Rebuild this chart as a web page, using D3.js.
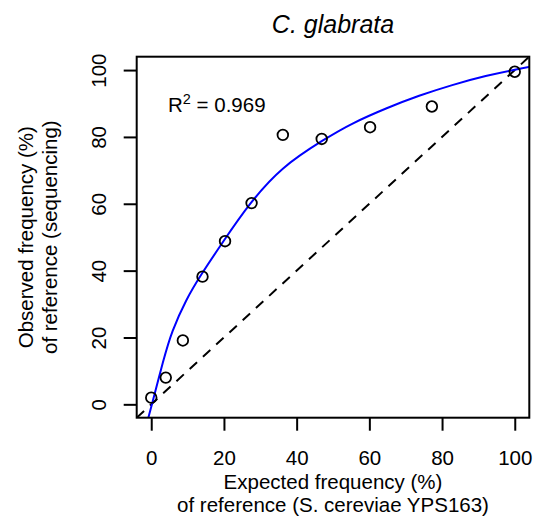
<!DOCTYPE html>
<html>
<head>
<meta charset="utf-8">
<script src="https://cdn.jsdelivr.net/npm/d3@7"></script>
<style>
  body { margin: 0; background: #fff; }
  text { font-family: "Liberation Sans", Arial, sans-serif; fill: #000; }
</style>
</head>
<body>
<div id="chart"></div>
<script>
const width = 535;
const height = 521;

// observed points
const expected = [0, 4.0, 8.7, 14.1, 20.3, 27.6, 36.2, 46.9, 60.2, 77.2, 100];
const observed = [2.0, 8.0, 19.1, 38.2, 48.8, 60.2, 80.6, 79.4, 82.9, 89.1, 99.5];

// fitted curve
const fitX = [-0.8, 0.3, 3.2, 5.9, 9.6, 14.0, 20.0, 27.1, 36.2, 47.0, 55.4, 64.6, 73.7, 82.8, 92.0, 100, 104.3];
const fitY = [-4, 0.5, 12.5, 22.0, 31.0, 39.2, 49.0, 59.8, 70.5, 78.8, 84.0, 88.5, 92.3, 95.5, 98.2, 100.1, 101.0];

const xTicks = [0, 20, 40, 60, 80, 100];
const yTicks = [0, 20, 40, 60, 80, 100];
const rSquared = "0.969";

const box = { left: 136.7, right: 529.3, top: 56.7, bottom: 417.7 };

const xScale = d3.scaleLinear().domain([-4, 104]).range([box.left, box.right]);
const yScale = d3.scaleLinear().domain([-4, 104]).range([box.bottom, box.top]);

const svg = d3.select("#chart")
  .append("svg")
  .attr("width", width)
  .attr("height", height);

svg.append("clipPath")
  .attr("id", "plotClip")
  .append("rect")
  .attr("x", box.left)
  .attr("y", box.top)
  .attr("width", box.right - box.left)
  .attr("height", box.bottom - box.top);

const plot = svg.append("g").attr("clip-path", "url(#plotClip)");

// identity line
plot.append("line")
  .attr("x1", xScale(-4))
  .attr("y1", yScale(-4))
  .attr("x2", xScale(104))
  .attr("y2", yScale(104))
  .attr("stroke", "#000")
  .attr("stroke-width", 2)
  .attr("stroke-dasharray", "10,8");

// fitted curve
const fitData = fitX.map((x, i) => [x, fitY[i]]);
plot.append("path")
  .datum(fitData)
  .attr("fill", "none")
  .attr("stroke", "#0000ff")
  .attr("stroke-width", 2)
  .attr("d", d3.line()
    .x(d => xScale(d[0]))
    .y(d => yScale(d[1]))
    .curve(d3.curveNatural));

// points
svg.append("g")
  .selectAll("circle")
  .data(expected)
  .join("circle")
  .attr("cx", d => xScale(d))
  .attr("cy", (d, i) => yScale(observed[i]))
  .attr("r", 5.3)
  .attr("fill", "none")
  .attr("stroke", "#000")
  .attr("stroke-width", 1.8);

// box
svg.append("rect")
  .attr("x", box.left)
  .attr("y", box.top)
  .attr("width", box.right - box.left)
  .attr("height", box.bottom - box.top)
  .attr("fill", "none")
  .attr("stroke", "#000")
  .attr("stroke-width", 2);

// axes
const xAxisGroup = svg.append("g")
  .attr("transform", `translate(0, ${box.bottom})`)
  .call(d3.axisBottom(xScale).tickValues(xTicks).tickSize(13).tickSizeOuter(0));

const yAxisGroup = svg.append("g")
  .attr("transform", `translate(${box.left}, 0)`)
  .call(d3.axisLeft(yScale).tickValues(yTicks).tickSize(13).tickSizeOuter(0));

[xAxisGroup, yAxisGroup].forEach(g => {
  g.select(".domain").remove();
  g.selectAll(".tick line").attr("stroke", "#000").attr("stroke-width", 2);
  g.selectAll(".tick text")
    .attr("font-family", "Liberation Sans, Arial, sans-serif")
    .attr("font-size", 20.5)
    .attr("fill", "#000");
});

xAxisGroup.selectAll(".tick text")
  .attr("y", 47)
  .attr("dy", 0);

yAxisGroup.selectAll(".tick text")
  .attr("x", 0)
  .attr("y", -31)
  .attr("dy", 0)
  .attr("text-anchor", "middle")
  .attr("transform", "rotate(-90)");

// title
svg.append("text")
  .attr("x", (box.left + box.right) / 2)
  .attr("y", 33)
  .attr("text-anchor", "middle")
  .attr("font-size", 25)
  .attr("font-style", "italic")
  .text("C. glabrata");

// x axis title
const xMid = (box.left + box.right) / 2;
svg.append("text")
  .attr("x", xMid)
  .attr("y", 488.5)
  .attr("text-anchor", "middle")
  .attr("font-size", 20.5)
  .text("Expected frequency (%)");

svg.append("text")
  .attr("x", xMid)
  .attr("y", 512)
  .attr("text-anchor", "middle")
  .attr("font-size", 20.5)
  .text("of reference (S. cereviae YPS163)");

// y axis title
const yMid = (box.top + box.bottom) / 2;
svg.append("text")
  .attr("transform", `translate(33, ${yMid}) rotate(-90)`)
  .attr("text-anchor", "middle")
  .attr("font-size", 20.5)
  .text("Observed frequency (%)");

svg.append("text")
  .attr("transform", `translate(57, ${yMid}) rotate(-90)`)
  .attr("text-anchor", "middle")
  .attr("font-size", 20.5)
  .text("of reference (sequencing)");

// R squared label
const r2 = svg.append("text")
  .attr("x", 168)
  .attr("y", 111.7)
  .attr("font-size", 20.5);
r2.append("tspan").text("R");
r2.append("tspan")
  .attr("font-size", 14.5)
  .attr("dy", -8)
  .text("2");
r2.append("tspan")
  .attr("dy", 8)
  .text(" = " + rSquared);
</script>
</body>
</html>
